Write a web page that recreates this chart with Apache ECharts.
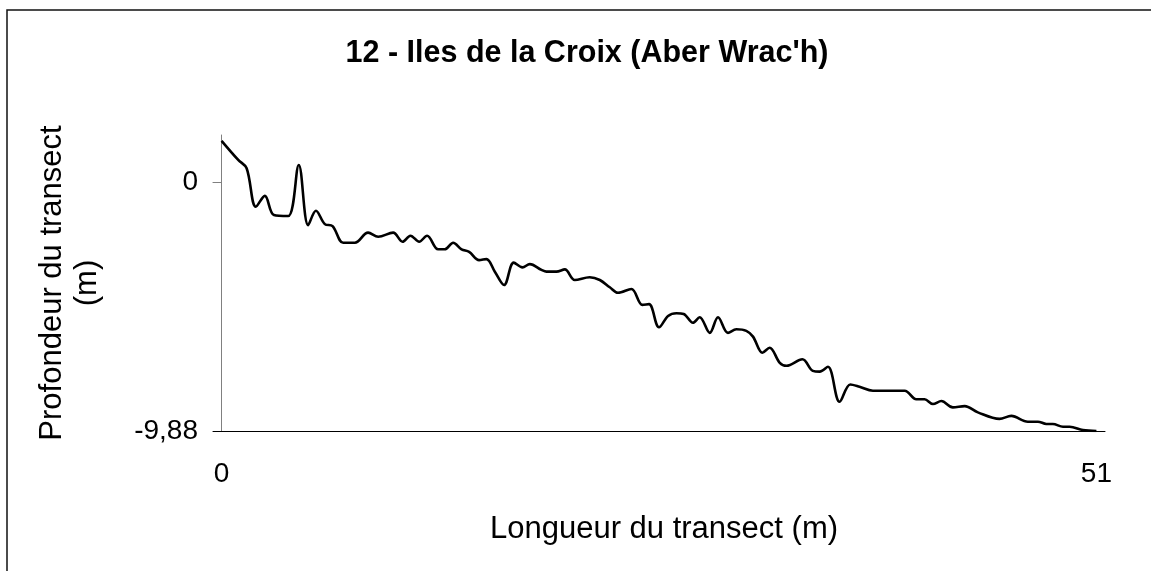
<!DOCTYPE html>
<html>
<head>
<meta charset="utf-8">
<script src="https://cdn.jsdelivr.net/npm/echarts@6/dist/echarts.min.js"></script>
<style>html,body{margin:0;padding:0;background:#fff;}#c{width:1151px;height:571px;}</style>
</head>
<body>
<div id="c"></div>
<script>
const titleText = "12 - Iles de la Croix (Aber Wrac'h)";
const xName = "Longueur du transect (m)";
const yName = "Profondeur du transect\n(m)";
const xTicks = [0, 51];
const yTicks = [0, -9.88];
const distance = [0,0.97,1.46,2.00,2.52,3.05,3.88,4.50,5.05,5.50,6.02,6.47,7.09,7.77,8.54,9.13,10.00,10.55,11.01,11.52,11.98,12.62,13.01,13.50,13.99,14.43,15.01,15.44,15.93,16.47,17.03,17.54,17.97,18.65,18.94,19.52,20.01,20.59,21.46,22.05,22.63,23.11,23.89,24.53,24.92,25.50,26.03,26.52,26.94,27.48,27.87,28.46,28.94,29.52,30.01,30.59,30.98,31.53,31.95,32.54,32.93,33.86,34.47,34.87,35.35,36.03,36.65,37.19,37.97,39.82,40.50,40.98,41.47,41.96,42.63,43.32,44.09,45.35,46.04,47.00,47.59,48.08,48.46,49.05,49.44,50.21,51.00];
const depth = [1.65,0.89,0.56,-0.97,-0.54,-1.30,-1.34,0.69,-1.70,-1.13,-1.66,-1.74,-2.40,-2.40,-2.00,-2.16,-2.00,-2.36,-2.12,-2.36,-2.12,-2.66,-2.66,-2.40,-2.66,-2.76,-3.09,-3.05,-3.55,-4.08,-3.19,-3.38,-3.25,-3.48,-3.55,-3.55,-3.46,-3.88,-3.77,-3.88,-4.17,-4.39,-4.24,-4.87,-4.84,-5.76,-5.31,-5.20,-5.23,-5.58,-5.36,-5.98,-5.36,-5.98,-5.84,-5.90,-6.13,-6.77,-6.57,-7.17,-7.29,-7.03,-7.49,-7.52,-7.33,-8.72,-8.03,-8.12,-8.28,-8.28,-8.62,-8.62,-8.81,-8.69,-8.94,-8.89,-9.14,-9.40,-9.28,-9.51,-9.51,-9.60,-9.60,-9.71,-9.71,-9.84,-9.88];

const FONT = "Arial, 'Liberation Sans', sans-serif";
const chart = echarts.init(document.getElementById('c'), null, {renderer: 'canvas'});
chart.setOption({
  animation: false,
  backgroundColor: '#fff',
  graphic: [{
    type: 'rect', silent: true, z: -1,
    shape: {x: 7, y: 10, width: 1300, height: 700},
    style: {fill: 'none', stroke: '#111', lineWidth: 1.5}
  }],
  title: {
    text: titleText, left: 582, top: 33, textAlign: 'center',
    textStyle: {fontFamily: FONT, fontSize: 30.5, fontWeight: 'bold', color: '#000'}
  },
  grid: {left: 213, top: 135, width: 892, height: 296},
  xAxis: {
    type: 'value', min: -0.5, max: 51.5,
    name: xName, nameLocation: 'middle', nameGap: 83,
    nameTextStyle: {fontFamily: FONT, fontSize: 31, color: '#000', padding: [0, 0, 0, 10]},
    axisLine: {onZero: false, lineStyle: {color: '#000', width: 1}},
    axisTick: {show: false},
    splitLine: {show: false},
    axisLabel: {customValues: xTicks, fontFamily: FONT, fontSize: 28, color: '#000', margin: 29}
  },
  yAxis: {
    type: 'value', min: -9.88, max: 1.88,
    name: yName, nameLocation: 'middle', nameGap: 108, nameRotate: 90,
    nameTextStyle: {fontFamily: FONT, fontSize: 31, color: '#000', lineHeight: 35},
    axisLine: {show: true, onZero: true, lineStyle: {color: '#808080', width: 1}},
    axisTick: {show: true, customValues: [0], length: 9, lineStyle: {color: '#808080'}},
    splitLine: {show: false},
    axisLabel: {
      customValues: yTicks, fontFamily: FONT, fontSize: 28, color: '#000', margin: 15,
      formatter: v => String(v).replace('.', ',')
    }
  },
  series: [{
    type: 'line', smooth: 0.35, symbol: 'none',
    data: distance.map((d, i) => [d, depth[i]]),
    lineStyle: {color: '#000', width: 2.6}
  }]
});
</script>
</body>
</html>
